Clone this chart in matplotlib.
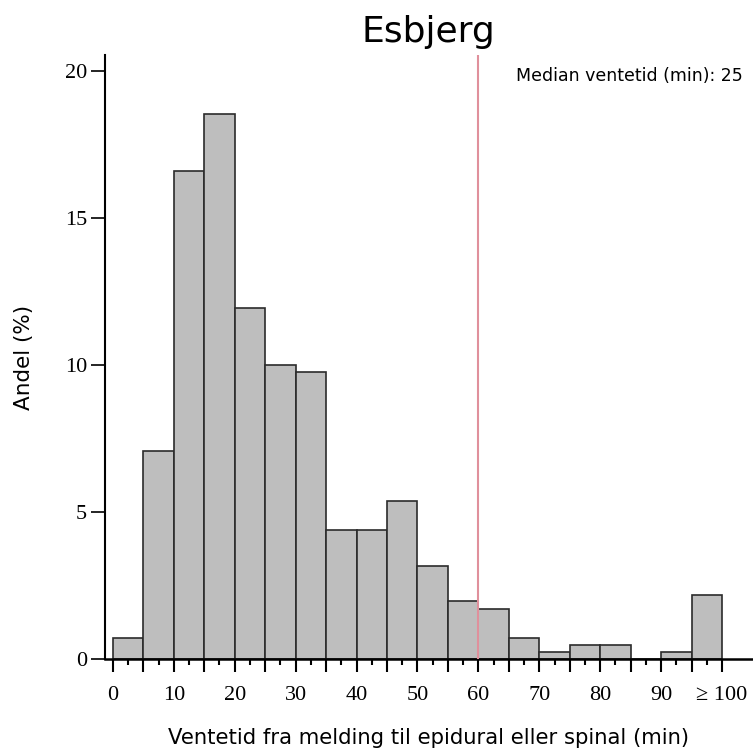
import matplotlib.pyplot as plt
import numpy as np

# share of births (%) per 5-minute waiting-time bin; last bin collects >= 100 min
bin_left = [0, 5, 10, 15, 20, 25, 30, 35, 40, 45, 50, 55, 60, 65, 70, 75, 80, 85, 90, 95]
share = [0.71, 7.07, 16.6, 18.55, 11.94, 10.0, 9.76, 4.39, 4.39, 5.37,
         3.16, 1.97, 1.70, 0.71, 0.24, 0.48, 0.48, 0.0, 0.24, 2.18]
xtick_pos = [0, 10, 20, 30, 40, 50, 60, 70, 80, 90, 100]
xtick_lab = ['0', '10', '20', '30', '40', '50', '60', '70', '80', '90', '≥ 100']
median_min = 25
marker_line = 60

SERIF = 'Liberation Serif'

fig = plt.figure(figsize=(7.53, 7.49), dpi=100)
ax = fig.add_axes([0.1394, 0.120, 0.86, 0.8066])

ax.bar(bin_left, share, width=5, align='edge', color='#bebebe',
       edgecolor='#2b2b2b', linewidth=1.2, zorder=2)
ax.axvline(marker_line, color='#e0909c', linewidth=1.5, zorder=3)

ax.set_xlim(-1.3, 105)
ax.set_ylim(0, 20.55)

ax.set_xticks(np.arange(0, 101, 5))
ax.set_xticklabels([xtick_lab[xtick_pos.index(v)] if v in xtick_pos else ''
                    for v in range(0, 101, 5)], family=SERIF, fontsize=16)
ax.set_xticks(np.arange(2.5, 100, 5), minor=True)
ax.tick_params(axis='x', which='major', length=9, width=1.5, direction='out',
               pad=10)
ax.tick_params(axis='x', which='minor', length=4.5, width=1.5, direction='out')

ax.set_yticks([0, 5, 10, 15, 20])
ax.set_yticklabels(['0', '5', '10', '15', '20'], family=SERIF, fontsize=16)
ax.tick_params(axis='y', length=10, width=1.2, direction='out', pad=3)

for s in ('top', 'right'):
    ax.spines[s].set_visible(False)
ax.spines['left'].set_linewidth(1.5)
ax.spines['bottom'].set_linewidth(1.8)

ax.set_xlabel('Ventetid fra melding til epidural eller spinal (min)',
              fontsize=15.2, labelpad=17)
ax.set_ylabel('Andel (%)', fontsize=15.5, labelpad=22)
ax.set_title('Esbjerg', fontsize=26, pad=9)

ax.text(0.985, 0.965, f'Median ventetid (min): {median_min}',
        transform=ax.transAxes, ha='right', va='center', fontsize=12.5)

fig.savefig('out.png', dpi=100, facecolor='white')
